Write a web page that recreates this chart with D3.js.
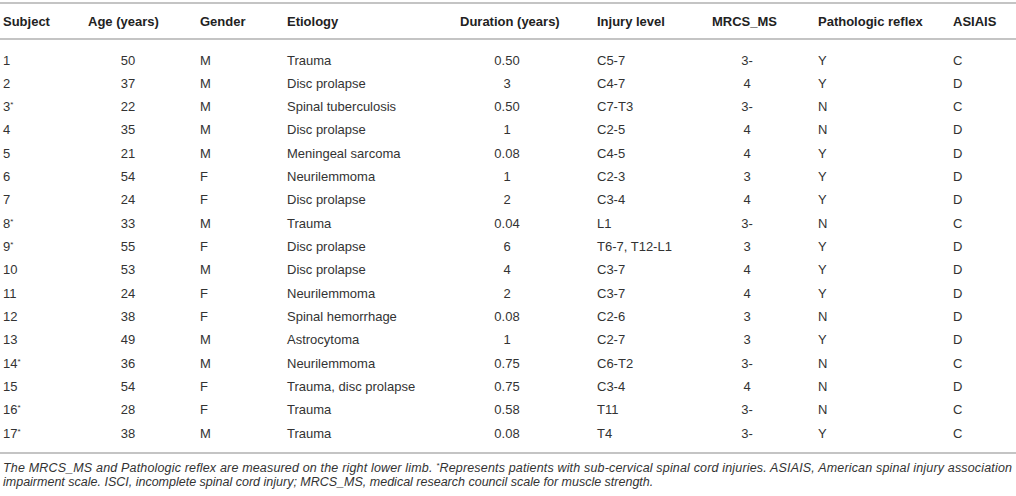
<!DOCTYPE html>
<html>
<head>
<meta charset="utf-8">
<script src="https://cdn.jsdelivr.net/npm/d3@7/dist/d3.min.js"></script>
<style>
  html, body { margin: 0; padding: 0; background: #fff; }
  svg { display: block; font-family: "Liberation Sans", Arial, Helvetica, sans-serif; }
</style>
</head>
<body>
<svg id="chart" width="1016" height="496"></svg>
<script>
// ---- data ----
const headers = ["Subject", "Age (years)", "Gender", "Etiology", "Duration (years)", "Injury level", "MRCS_MS", "Pathologic reflex", "ASIAIS"];
const subjects = ["1", "2", "3*", "4", "5", "6", "7", "8*", "9*", "10", "11", "12", "13", "14*", "15", "16*", "17*"];
const ages = [50, 37, 22, 35, 21, 54, 24, 33, 55, 53, 24, 38, 49, 36, 54, 28, 38];
const genders = ["M", "M", "M", "M", "M", "F", "F", "M", "F", "M", "F", "F", "M", "M", "F", "F", "M"];
const etiologies = ["Trauma", "Disc prolapse", "Spinal tuberculosis", "Disc prolapse", "Meningeal sarcoma", "Neurilemmoma", "Disc prolapse", "Trauma", "Disc prolapse", "Disc prolapse", "Neurilemmoma", "Spinal hemorrhage", "Astrocytoma", "Neurilemmoma", "Trauma, disc prolapse", "Trauma", "Trauma"];
const durations = ["0.50", "3", "0.50", "1", "0.08", "1", "2", "0.04", "6", "4", "2", "0.08", "1", "0.75", "0.75", "0.58", "0.08"];
const injuryLevels = ["C5-7", "C4-7", "C7-T3", "C2-5", "C4-5", "C2-3", "C3-4", "L1", "T6-7, T12-L1", "C3-7", "C3-7", "C2-6", "C2-7", "C6-T2", "C3-4", "T11", "T4"];
const mrcs = ["3-", "4", "3-", "4", "4", "3", "4", "3-", "3", "4", "4", "3", "3", "3-", "4", "3-", "3-"];
const reflexes = ["Y", "Y", "N", "N", "Y", "Y", "Y", "N", "Y", "Y", "Y", "N", "Y", "N", "N", "N", "Y"];
const asiais = ["C", "D", "C", "D", "D", "D", "D", "C", "D", "D", "D", "D", "D", "C", "D", "C", "C"];
const footnote1 = "The MRCS_MS and Pathologic reflex are measured on the right lower limb. |*|Represents patients with sub-cervical spinal cord injuries. ASIAIS, American spinal injury association";
const footnote2 = "impairment scale. ISCI, incomplete spinal cord injury; MRCS_MS, medical research council scale for muscle strength.";

// ---- layout ----
const W = 1016;
const columns = [subjects, ages, genders, etiologies, durations, injuryLevels, mrcs, reflexes, asiais];
const colX = [3, 88, 200, 287, 460, 597, 712, 818, 953];
const colAlign = ["start", "middle", "start", "start", "middle", "start", "middle", "start", "start"];
const colCenter = [0, 128, 0, 0, 507, 0, 747, 0, 0];

const svg = d3.select("#chart");
const y = d3.scalePoint().domain(d3.range(subjects.length)).range([60, 433]);

const lineColor = "#c4c4c4";
[3, 39, 453].forEach(v => {
  svg.append("line").attr("x1", 0).attr("x2", W).attr("y1", v).attr("y2", v)
    .attr("stroke", lineColor).attr("stroke-width", 2);
});

// header
svg.append("g").selectAll("text").data(headers).join("text")
  .attr("x", (d, i) => colX[i])
  .attr("y", 21)
  .attr("dy", "0.35em")
  .attr("font-size", 13)
  .attr("font-weight", "bold")
  .attr("fill", "#222")
  .text(d => d);

// body
columns.forEach((col, ci) => {
  const g = svg.append("g");
  g.selectAll("text").data(col).join("text")
    .attr("x", colAlign[ci] === "middle" ? colCenter[ci] : colX[ci])
    .attr("y", (d, i) => y(i))
    .attr("dy", "0.35em")
    .attr("text-anchor", colAlign[ci])
    .attr("font-size", 13)
    .attr("fill", "#333")
    .each(function(d) {
      const s = String(d);
      const t = d3.select(this);
      if (s.endsWith("*")) {
        t.append("tspan").text(s.slice(0, -1));
        t.append("tspan").attr("font-size", 8).attr("dy", "-4").text("*");
      } else {
        t.text(s);
      }
    });
});

// footnotes
const fn1 = svg.append("text")
  .attr("x", 3).attr("y", 468).attr("dy", "0.35em")
  .attr("font-size", 12.5).attr("font-style", "italic").attr("fill", "#333")
  .attr("textLength", 1009).attr("lengthAdjust", "spacing");
footnote1.split("|").forEach(part => {
  if (part === "*") fn1.append("tspan").attr("font-size", 8).attr("dy", -4).text("*");
  else if (part.startsWith("Represents")) fn1.append("tspan").attr("dy", 4).text(part);
  else fn1.append("tspan").text(part);
});
svg.append("text")
  .attr("x", 3).attr("y", 482).attr("dy", "0.35em")
  .attr("font-size", 12.5).attr("font-style", "italic").attr("fill", "#333")
  .text(footnote2);
</script>
</body>
</html>
